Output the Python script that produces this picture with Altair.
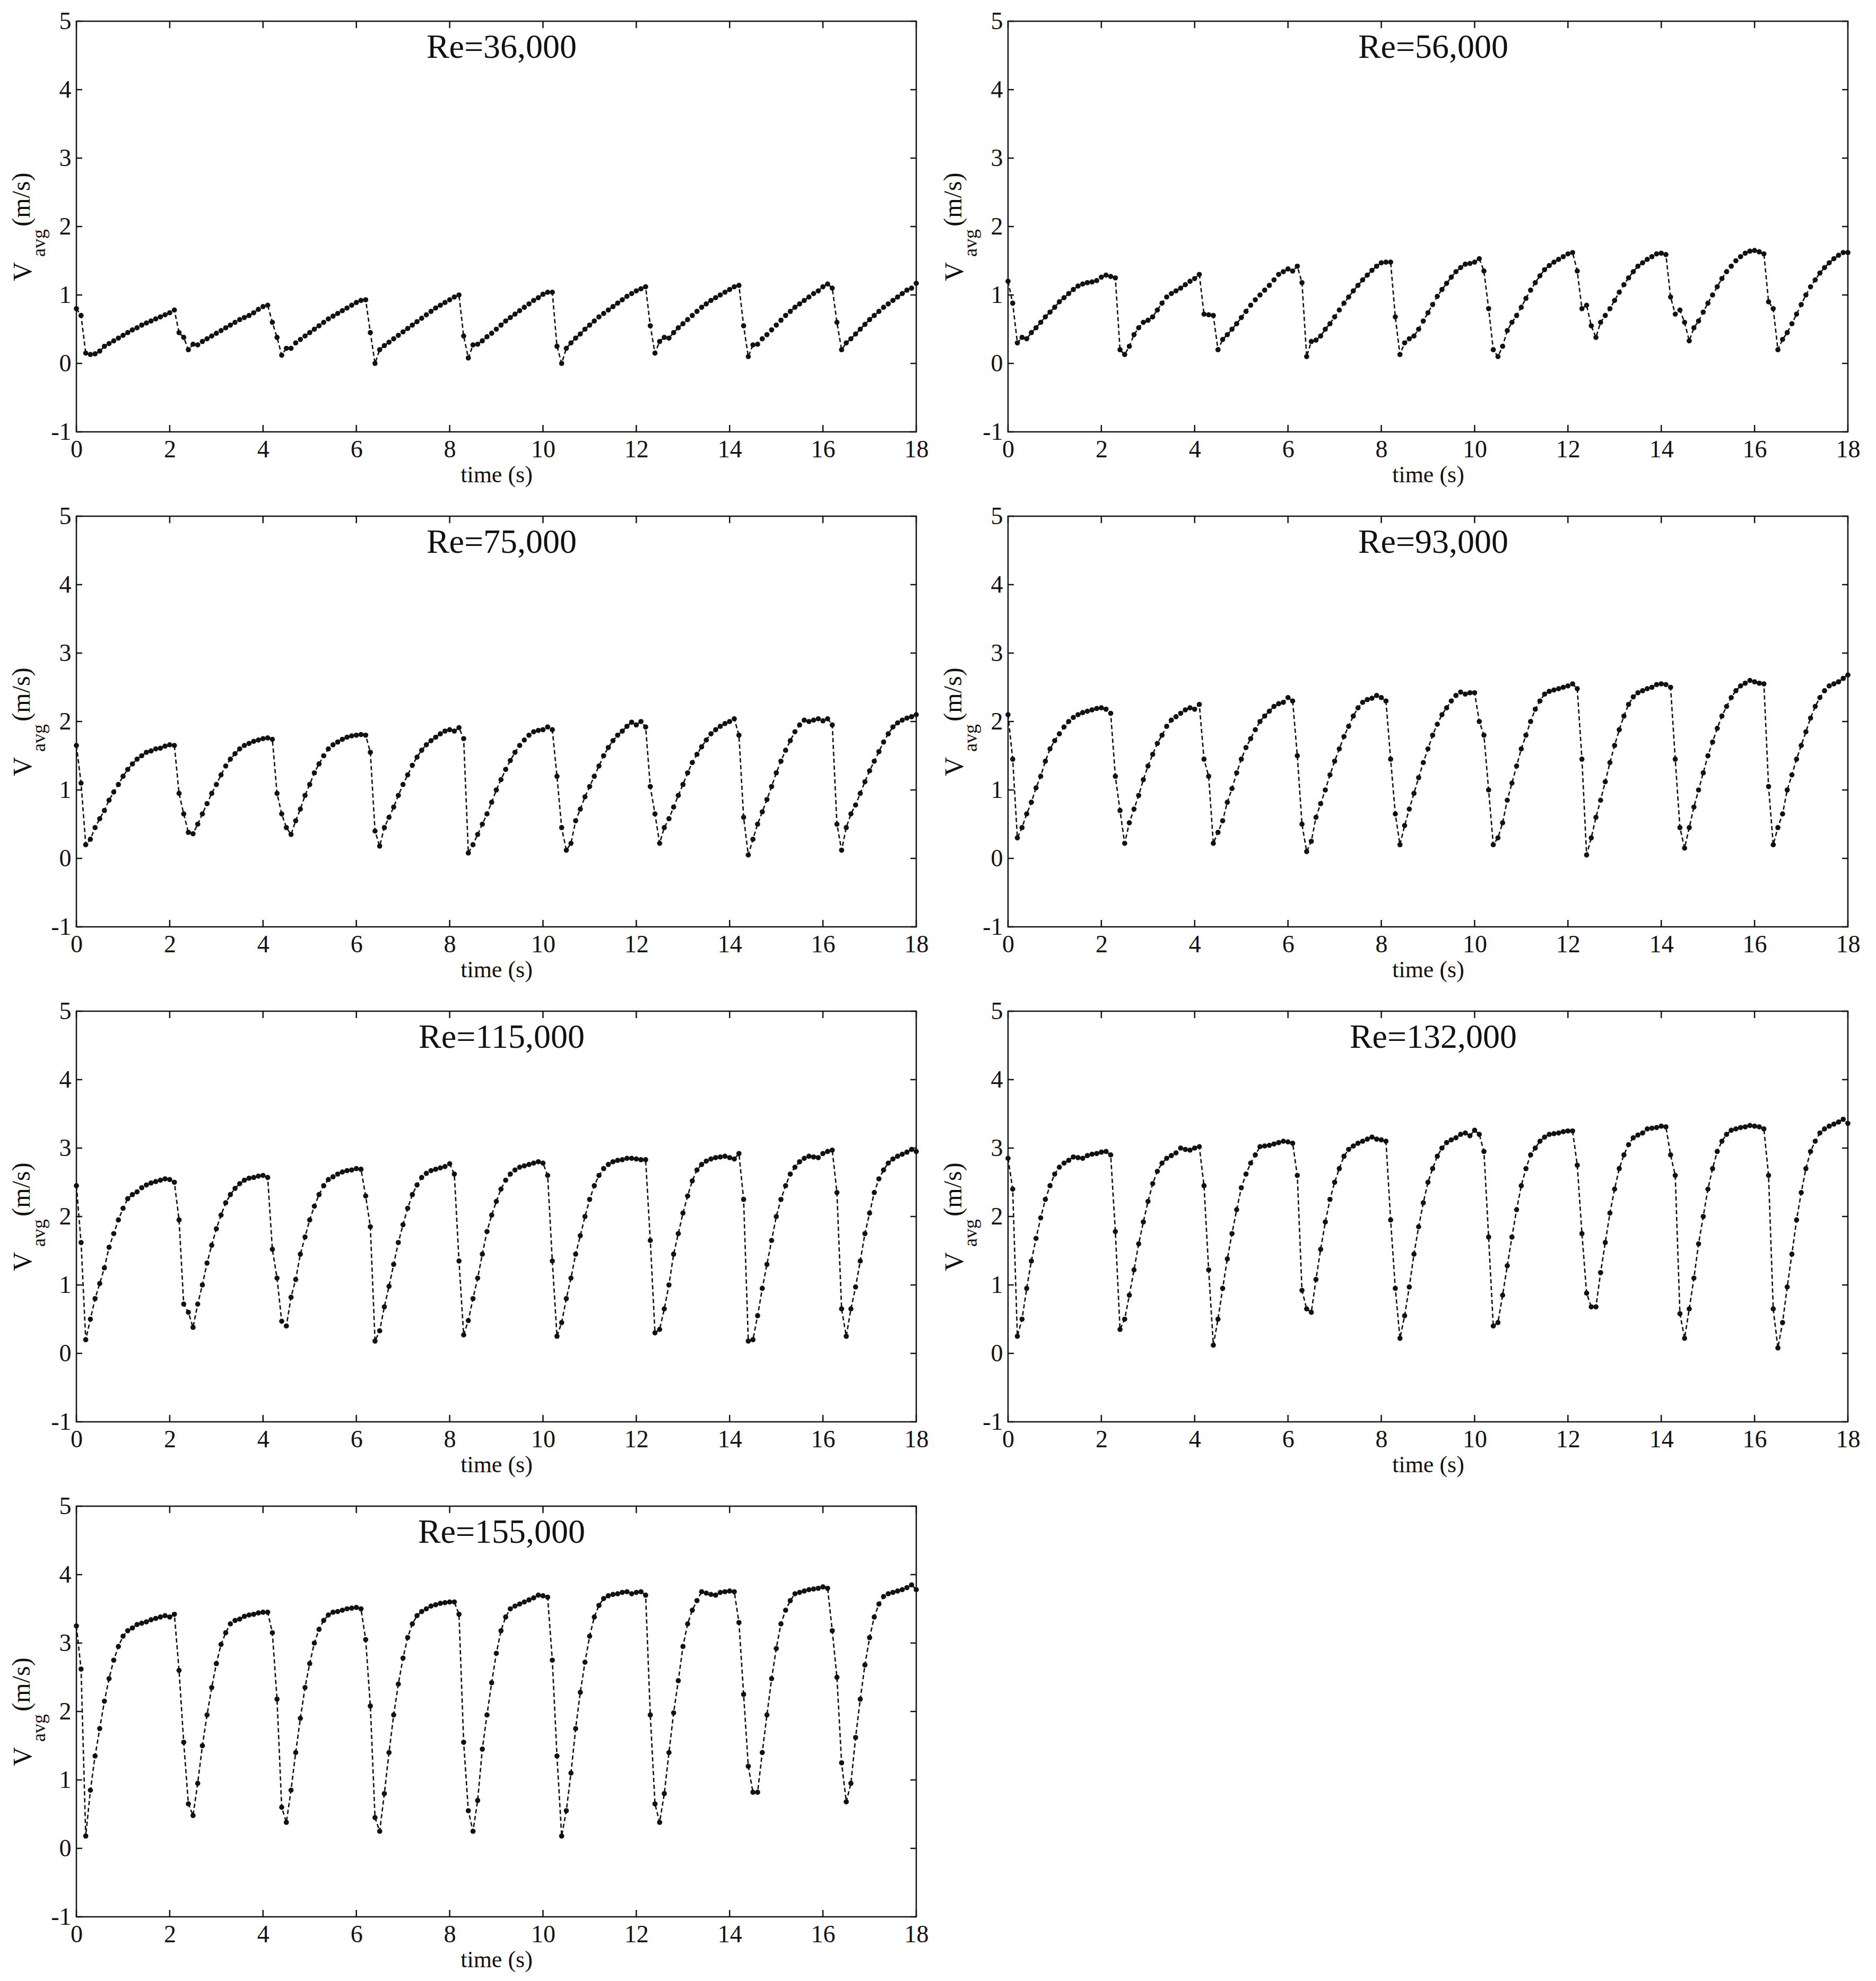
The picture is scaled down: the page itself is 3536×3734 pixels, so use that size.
import altair as alt
import pandas as pd

FONT = "Liberation Serif"
TITLES = ["Re=36,000", "Re=56,000", "Re=75,000", "Re=93,000",
          "Re=115,000", "Re=132,000", "Re=155,000"]
X_TICKS = [0, 2, 4, 6, 8, 10, 12, 14, 16, 18]
Y_TICKS = [-1, 0, 1, 2, 3, 4, 5]
X_LABEL = "time (s)"
Y_MAIN, Y_SUB, Y_UNIT = "V", "avg", "(m/s)"
DT = 0.1  # sampling interval (s)

RE36 = [0.80,0.70,0.15,0.13,0.14,0.18,0.25,0.29,0.33,0.37,0.41,0.45,0.49,0.52,0.56,0.59,0.62,0.65,0.68,0.71,0.74,0.78,
        0.45,0.38,0.20,0.28,0.27,0.32,0.36,0.40,0.44,0.48,0.52,0.56,0.60,0.64,0.67,0.70,0.74,0.79,0.83,0.85,
        0.60,0.38,0.12,0.22,0.22,0.30,0.35,0.40,0.45,0.50,0.55,0.60,0.65,0.69,0.73,0.77,0.81,0.85,0.89,0.92,0.93,
        0.45,0.00,0.20,0.26,0.31,0.36,0.41,0.46,0.51,0.56,0.61,0.66,0.71,0.76,0.81,0.85,0.89,0.93,0.97,1.00,
        0.40,0.08,0.27,0.28,0.33,0.39,0.44,0.50,0.56,0.62,0.67,0.72,0.77,0.82,0.87,0.92,0.96,1.01,1.04,1.04,
        0.25,0.00,0.22,0.30,0.37,0.43,0.50,0.56,0.62,0.68,0.73,0.78,0.83,0.88,0.93,0.98,1.02,1.06,1.09,1.12,
        0.55,0.15,0.32,0.38,0.37,0.45,0.52,0.58,0.64,0.70,0.76,0.82,0.87,0.92,0.96,1.00,1.04,1.08,1.12,1.14,
        0.55,0.10,0.27,0.28,0.36,0.42,0.49,0.56,0.63,0.70,0.76,0.82,0.87,0.92,0.97,1.02,1.06,1.12,1.16,1.10,
        0.60,0.20,0.30,0.36,0.43,0.50,0.57,0.64,0.70,0.76,0.82,0.87,0.92,0.97,1.02,1.07,1.10,1.17]

RE56 = [1.20,0.88,0.30,0.38,0.36,0.45,0.52,0.60,0.68,0.75,0.82,0.90,0.96,1.02,1.08,1.13,1.16,1.18,1.19,1.21,1.26,1.29,1.27,1.25,
        0.20,0.13,0.25,0.42,0.52,0.60,0.63,0.68,0.78,0.88,0.97,1.02,1.06,1.10,1.15,1.20,1.24,1.30,
        0.72,0.71,0.70,0.20,0.35,0.42,0.50,0.58,0.67,0.76,0.85,0.93,1.00,1.07,1.14,1.22,1.30,1.34,1.38,1.35,1.42,
        1.18,0.10,0.32,0.34,0.40,0.50,0.58,0.68,0.78,0.88,0.97,1.06,1.14,1.22,1.29,1.36,1.42,1.47,1.48,1.48,
        0.68,0.13,0.30,0.36,0.40,0.50,0.62,0.74,0.86,0.98,1.08,1.17,1.26,1.34,1.40,1.45,1.46,1.48,1.53,1.35,
        0.80,0.20,0.10,0.25,0.48,0.60,0.70,0.82,0.95,1.07,1.18,1.28,1.37,1.43,1.48,1.52,1.56,1.60,1.62,1.35,
        0.80,0.85,0.55,0.38,0.60,0.70,0.80,0.92,1.04,1.15,1.25,1.34,1.42,1.47,1.52,1.56,1.60,1.61,1.59,
        0.97,0.72,0.78,0.60,0.33,0.52,0.62,0.75,0.88,1.00,1.12,1.24,1.34,1.42,1.50,1.56,1.61,1.64,1.65,1.63,1.60,
        0.90,0.80,0.20,0.35,0.45,0.58,0.72,0.86,1.00,1.12,1.22,1.32,1.40,1.47,1.53,1.58,1.62,1.62]

RE75 = [1.65,1.10,0.20,0.28,0.45,0.58,0.70,0.85,0.97,1.08,1.20,1.30,1.38,1.45,1.50,1.55,1.57,1.60,1.61,1.64,1.66,1.65,
        0.95,0.65,0.38,0.36,0.50,0.65,0.80,0.95,1.08,1.22,1.35,1.45,1.53,1.60,1.65,1.68,1.71,1.73,1.75,1.76,1.74,
        0.95,0.65,0.45,0.35,0.55,0.72,0.92,1.08,1.25,1.38,1.50,1.60,1.66,1.70,1.74,1.77,1.79,1.80,1.81,1.80,
        1.55,0.40,0.18,0.45,0.60,0.75,0.92,1.08,1.22,1.36,1.48,1.58,1.66,1.72,1.77,1.82,1.86,1.88,1.86,1.91,
        1.75,0.08,0.20,0.35,0.50,0.65,0.82,1.00,1.15,1.30,1.43,1.55,1.65,1.73,1.80,1.85,1.87,1.88,1.92,1.88,
        1.20,0.45,0.12,0.22,0.55,0.72,0.90,1.05,1.20,1.35,1.50,1.62,1.72,1.80,1.86,1.93,1.99,1.95,2.00,1.92,
        1.05,0.65,0.22,0.45,0.58,0.75,0.92,1.08,1.25,1.40,1.52,1.63,1.73,1.82,1.88,1.93,1.97,2.00,2.04,1.80,
        0.60,0.05,0.28,0.50,0.68,0.86,1.05,1.25,1.42,1.58,1.72,1.85,1.95,2.02,2.00,2.02,2.04,2.01,2.04,1.95,
        0.50,0.12,0.45,0.65,0.78,0.95,1.12,1.28,1.42,1.56,1.70,1.82,1.92,1.98,2.02,2.05,2.07,2.10]

RE93 = [2.10,1.45,0.30,0.45,0.65,0.82,1.03,1.20,1.42,1.60,1.72,1.82,1.92,2.00,2.06,2.10,2.13,2.15,2.17,2.19,2.20,2.18,2.12,
        1.20,0.70,0.22,0.52,0.72,0.92,1.15,1.35,1.52,1.68,1.80,1.93,2.02,2.07,2.12,2.17,2.20,2.18,2.25,
        1.45,1.20,0.22,0.38,0.55,0.82,1.02,1.25,1.45,1.62,1.75,1.88,2.00,2.08,2.15,2.22,2.26,2.28,2.35,2.30,
        1.50,0.50,0.10,0.25,0.60,0.80,1.00,1.22,1.42,1.60,1.78,1.93,2.08,2.20,2.28,2.32,2.34,2.38,2.35,2.30,
        1.45,0.65,0.20,0.48,0.72,0.95,1.18,1.40,1.60,1.80,1.96,2.10,2.20,2.30,2.38,2.43,2.40,2.42,2.42,
        2.00,1.80,1.00,0.20,0.30,0.52,0.85,1.10,1.35,1.60,1.80,2.00,2.18,2.30,2.40,2.44,2.46,2.48,2.50,2.52,2.55,
        2.48,1.45,0.05,0.30,0.60,0.85,1.12,1.40,1.65,1.88,2.08,2.25,2.36,2.42,2.45,2.48,2.50,2.54,2.55,2.54,2.50,
        1.45,0.45,0.15,0.45,0.75,1.00,1.25,1.50,1.70,1.90,2.08,2.22,2.35,2.45,2.52,2.56,2.60,2.58,2.56,2.55,
        1.05,0.20,0.45,0.65,1.00,1.22,1.45,1.65,1.85,2.05,2.22,2.35,2.45,2.52,2.55,2.58,2.63,2.68]

RE115 = [2.45,1.62,0.20,0.50,0.80,1.02,1.25,1.55,1.75,1.95,2.12,2.26,2.32,2.36,2.42,2.46,2.49,2.51,2.53,2.55,2.54,2.50,
         1.95,0.72,0.60,0.38,0.72,1.00,1.32,1.58,1.82,2.02,2.20,2.32,2.41,2.48,2.53,2.56,2.57,2.59,2.60,2.57,
         1.52,1.10,0.47,0.40,0.82,1.08,1.45,1.70,1.95,2.15,2.32,2.45,2.54,2.58,2.62,2.65,2.67,2.68,2.70,2.69,
         2.30,1.85,0.18,0.33,0.68,0.98,1.30,1.62,1.88,2.12,2.32,2.46,2.57,2.63,2.67,2.69,2.71,2.73,2.77,2.62,
         1.35,0.27,0.48,0.80,1.10,1.45,1.78,2.02,2.22,2.40,2.53,2.62,2.68,2.72,2.74,2.76,2.78,2.80,2.78,2.60,
         1.35,0.25,0.45,0.80,1.10,1.45,1.72,2.00,2.25,2.45,2.60,2.70,2.76,2.80,2.82,2.83,2.85,2.85,2.84,2.83,2.83,
         1.65,0.30,0.35,0.65,1.00,1.45,1.75,2.05,2.30,2.52,2.68,2.76,2.81,2.84,2.86,2.87,2.88,2.86,2.84,2.92,
         2.25,0.18,0.20,0.55,0.95,1.30,1.65,2.00,2.25,2.45,2.62,2.72,2.80,2.85,2.88,2.87,2.86,2.92,2.95,2.97,
         2.35,0.65,0.25,0.65,0.97,1.35,1.75,2.05,2.35,2.55,2.68,2.78,2.84,2.88,2.91,2.94,2.98,2.95]

RE132 = [2.85,2.40,0.25,0.50,0.95,1.35,1.68,1.98,2.25,2.45,2.62,2.72,2.78,2.82,2.87,2.86,2.85,2.89,2.91,2.92,2.94,2.95,2.90,
         1.78,0.35,0.50,0.85,1.22,1.60,1.92,2.22,2.48,2.66,2.78,2.85,2.89,2.93,3.00,2.98,2.97,3.00,3.02,
         2.45,1.22,0.12,0.50,0.95,1.38,1.75,2.10,2.42,2.62,2.78,2.90,3.02,3.03,3.04,3.06,3.08,3.10,3.09,3.07,
         2.60,0.92,0.65,0.60,1.08,1.52,1.92,2.25,2.50,2.70,2.88,2.98,3.03,3.07,3.10,3.13,3.16,3.13,3.12,3.10,
         1.95,0.95,0.22,0.55,0.97,1.45,1.85,2.20,2.50,2.70,2.88,3.00,3.08,3.12,3.15,3.20,3.22,3.18,3.26,3.20,2.95,
         1.70,0.40,0.45,0.85,1.28,1.70,2.10,2.45,2.70,2.90,3.00,3.10,3.16,3.20,3.21,3.22,3.24,3.25,3.25,2.75,
         1.75,0.88,0.68,0.68,1.18,1.62,2.05,2.40,2.70,2.90,3.05,3.15,3.19,3.22,3.28,3.29,3.30,3.32,3.31,2.90,
         2.60,0.58,0.22,0.65,1.10,1.60,2.00,2.40,2.70,2.95,3.10,3.20,3.26,3.28,3.30,3.31,3.33,3.32,3.31,3.28,
         2.60,0.65,0.08,0.45,0.97,1.45,1.95,2.35,2.70,2.95,3.10,3.22,3.28,3.32,3.35,3.38,3.42,3.36]

RE155 = [3.25,2.62,0.18,0.85,1.35,1.75,2.15,2.48,2.75,2.95,3.10,3.18,3.22,3.27,3.29,3.31,3.34,3.36,3.38,3.40,3.38,3.42,
         2.60,1.55,0.65,0.48,0.95,1.50,1.95,2.35,2.70,2.98,3.15,3.28,3.33,3.35,3.39,3.41,3.42,3.44,3.45,3.45,
         3.15,2.18,0.60,0.38,0.85,1.40,1.90,2.35,2.70,3.00,3.20,3.33,3.41,3.45,3.46,3.48,3.50,3.51,3.52,3.50,
         3.05,2.08,0.45,0.25,0.80,1.40,1.95,2.40,2.78,3.08,3.28,3.40,3.46,3.50,3.54,3.56,3.58,3.59,3.60,3.60,3.42,
         1.55,0.55,0.25,0.70,1.45,1.95,2.42,2.85,3.18,3.38,3.50,3.54,3.57,3.60,3.63,3.66,3.70,3.69,3.67,
         2.75,1.35,0.18,0.55,1.10,1.75,2.28,2.72,3.10,3.38,3.55,3.65,3.69,3.71,3.72,3.74,3.75,3.72,3.74,3.75,3.70,
         1.95,0.65,0.38,0.80,1.40,1.98,2.45,2.95,3.28,3.48,3.62,3.75,3.73,3.71,3.70,3.74,3.75,3.76,3.75,
         3.30,2.25,1.20,0.82,0.82,1.40,1.95,2.48,2.92,3.28,3.48,3.62,3.72,3.74,3.76,3.78,3.79,3.80,3.82,3.80,
         3.18,2.50,1.25,0.68,0.95,1.62,2.18,2.68,3.08,3.38,3.57,3.68,3.72,3.74,3.76,3.78,3.81,3.85,3.78]

SERIES = [RE36, RE56, RE75, RE93, RE115, RE132, RE155]

W, H = 1583, 774
INK = "#111111"


def panel(vals, title):
    df = pd.DataFrame({"t": [round(i * DT, 1) for i in range(len(vals))], "v": vals})
    xs = alt.Scale(domain=[0, 18], nice=False, zero=False)
    ys = alt.Scale(domain=[-1, 5], nice=False, zero=False)
    x = alt.X("t:Q", scale=xs, axis=alt.Axis(
        values=X_TICKS, labelExpr="'' + datum.value", title=X_LABEL, tickSize=0,
        domain=False, grid=False,
        labelFont=FONT, labelFontSize=46, labelColor=INK, labelPadding=11,
        labelFlush=False, labelOverlap=False,
        titleFont=FONT, titleFontSize=44, titleFontWeight="normal",
        titleColor=INK, titlePadding=3))
    y = alt.Y("v:Q", scale=ys, axis=alt.Axis(
        values=Y_TICKS, labelExpr="'' + datum.value", title=None, tickSize=0,
        domain=False, grid=False,
        labelFont=FONT, labelFontSize=46, labelColor=INK, labelPadding=10,
        labelFlush=False, labelOverlap=False))

    line = alt.Chart(df).mark_line(color=INK, strokeWidth=2.6, strokeDash=[8, 5]).encode(x=x, y=y)
    pts = alt.Chart(df).mark_point(shape="circle", filled=True, color=INK, size=95,
                                   opacity=1).encode(x="t:Q", y="v:Q")

    xt = pd.DataFrame({"t": X_TICKS})
    yt = pd.DataFrame({"v": Y_TICKS})
    tick_b = alt.Chart(xt).mark_rule(color=INK, strokeWidth=2.5).encode(
        x="t:Q", y=alt.value(H), y2=alt.value(H - 13))
    tick_t = alt.Chart(xt).mark_rule(color=INK, strokeWidth=2.5).encode(
        x="t:Q", y=alt.value(0), y2=alt.value(13))
    tick_l = alt.Chart(yt).mark_rule(color=INK, strokeWidth=2.5).encode(
        y="v:Q", x=alt.value(0), x2=alt.value(11))
    tick_r = alt.Chart(yt).mark_rule(color=INK, strokeWidth=2.5).encode(
        y="v:Q", x=alt.value(W), x2=alt.value(W - 11))

    ttl = alt.Chart(pd.DataFrame({"s": [title]})).mark_text(
        font=FONT, fontSize=64, color=INK, align="center", baseline="middle").encode(
        text="s:N", x=alt.value(W / 2 + 10), y=alt.value(50))

    yl1 = alt.Chart(pd.DataFrame({"s": [Y_MAIN]})).mark_text(
        font=FONT, fontSize=50, color=INK, angle=270, align="center", baseline="middle").encode(
        text="s:N", x=alt.value(-100), y=alt.value(472))
    yl2 = alt.Chart(pd.DataFrame({"s": [Y_SUB]})).mark_text(
        font=FONT, fontSize=36, color=INK, angle=270, align="center", baseline="middle").encode(
        text="s:N", x=alt.value(-70), y=alt.value(418))
    yl3 = alt.Chart(pd.DataFrame({"s": [Y_UNIT]})).mark_text(
        font=FONT, fontSize=48, color=INK, angle=270, align="center", baseline="middle").encode(
        text="s:N", x=alt.value(-102), y=alt.value(336))

    return alt.layer(line, pts, tick_b, tick_t, tick_l, tick_r, ttl, yl1, yl2, yl3).properties(
        width=W, height=H)


P = [panel(v, t) for v, t in zip(SERIES, TITLES)]
rows = [
    alt.hconcat(P[0], P[1], spacing=20),
    alt.hconcat(P[2], P[3], spacing=20),
    alt.hconcat(P[4], P[5], spacing=20),
    P[6],
]
chart = alt.vconcat(*rows, spacing=29).properties(
    padding={"left": 8, "top": 7, "right": 0, "bottom": 0},
    background="white",
).configure_view(stroke=INK, strokeWidth=2.5)

chart.save("out.html", embed_options={"renderer": "svg", "actions": False})
